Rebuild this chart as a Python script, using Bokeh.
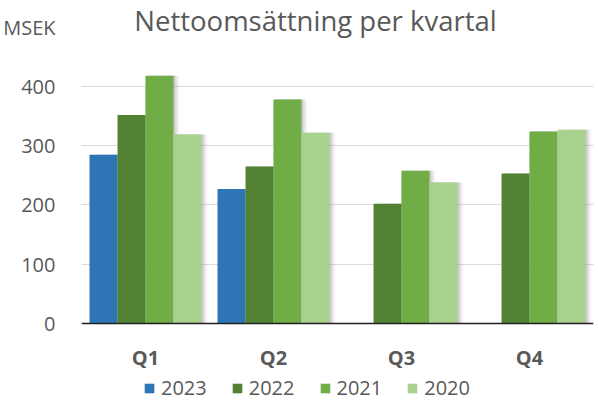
from bokeh.plotting import figure
from bokeh.models import (FactorRange, Range1d, Legend, LegendItem, Label,
                          ColumnDataSource, FixedTicker)
from bokeh.transform import dodge
from bokeh.embed import file_html
from bokeh.resources import INLINE

quarters = ["Q1", "Q2", "Q3", "Q4"]
years = ["2023", "2022", "2021", "2020"]
v2023 = [285, 227, float("nan"), float("nan")]
v2022 = [352, 265, 202, 253]
v2021 = [418, 378, 258, 324]
v2020 = [319, 322, 238, 327]
colors = ["#2E75B6", "#548235", "#70AD47", "#A9D18E"]
yticks = [0, 100, 200, 300, 400]
unit_label = "MSEK"
title_text = "Nettoomsättning per kvartal"

FONT = "Open Sans"
GREY = "#595959"

src = ColumnDataSource(dict(q=quarters, y2023=v2023, y2022=v2022, y2021=v2021, y2020=v2020))

p = figure(width=598, height=401, x_range=FactorRange(*quarters), y_range=Range1d(-131.6, 545.1),
           output_backend="svg", toolbar_location=None, title=None,
           min_border_left=77, min_border_right=5, min_border_top=0, min_border_bottom=0)
p.outline_line_color = None

offsets = [-0.328, -0.109, 0.109, 0.328]
cols = ["y2023", "y2022", "y2021", "y2020"]
W = 0.219
# soft shadow to the right of each bar
for dx, a in [(0.012, 0.16), (0.024, 0.12), (0.036, 0.08), (0.048, 0.04)]:
    for off, c in zip(offsets, cols):
        p.vbar(x=dodge("q", off + dx, range=p.x_range), top=c, width=W, bottom=0,
               source=src, fill_color="#606060", fill_alpha=a, line_color=None)
renderers = []
for off, c, col in zip(offsets, cols, colors):
    r = p.vbar(x=dodge("q", off, range=p.x_range), top=c, width=W, bottom=0,
               source=src, fill_color=col, line_color=None)
    renderers.append(r)

p.xgrid.grid_line_color = None
p.ygrid.ticker = FixedTicker(ticks=yticks)
p.ygrid.grid_line_color = "#D9D9D9"
p.ygrid.grid_line_width = 1.2

unit_pos = 499
p.yaxis.ticker = FixedTicker(ticks=yticks + [unit_pos])
p.yaxis.major_label_overrides = {unit_pos: unit_label}
p.yaxis.axis_line_color = None
p.yaxis.major_tick_line_color = None
p.yaxis.minor_tick_line_color = None
p.yaxis.major_label_text_font = FONT
p.yaxis.major_label_text_font_size = "20px"
p.yaxis.major_label_text_color = GREY
p.yaxis.major_label_standoff = 20

p.xaxis.fixed_location = 0
p.xaxis.axis_line_color = "#202020"
p.xaxis.axis_line_width = 1.6
p.xaxis.major_tick_line_color = None
p.xaxis.major_label_text_font = FONT
p.xaxis.major_label_text_font_size = "20px"
p.xaxis.major_label_text_font_style = "bold"
p.xaxis.major_label_text_color = GREY
p.xaxis.major_label_standoff = 14

p.add_layout(Label(x=234, y=381, x_units="screen", y_units="screen", text=title_text,
                   text_font=FONT, text_font_size="27.5px", text_color=GREY,
                   text_align="center", text_baseline="alphabetic"))

legend = Legend(items=[LegendItem(label=y, renderers=[r]) for y, r in zip(years, renderers)],
                orientation="horizontal", location=(62, 0),
                label_text_font=FONT, label_text_font_size="20px", label_text_color=GREY,
                glyph_width=12, glyph_height=12, label_standoff=6, spacing=24,
                padding=0, margin=0, border_line_color=None, background_fill_alpha=0)
p.add_layout(legend, "center")

open("out.html", "w").write(file_html(p, INLINE))
